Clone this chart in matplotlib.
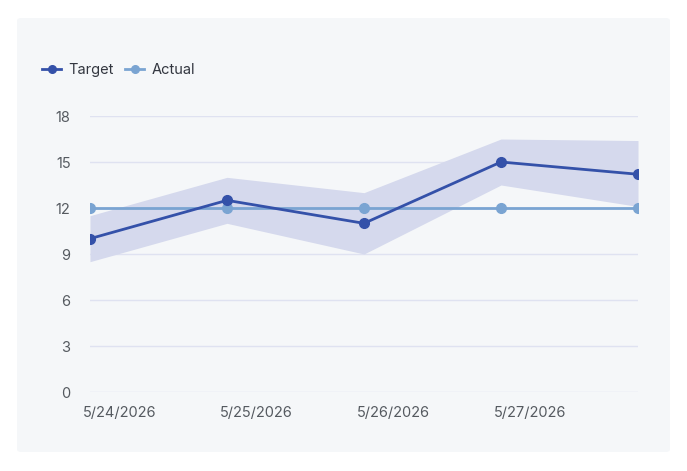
import matplotlib.pyplot as plt
import matplotlib.transforms as mtrans
from matplotlib.patches import FancyBboxPatch
from matplotlib.lines import Line2D

# data
dates = ['5/24/2026', '5/25/2026', '5/26/2026', '5/27/2026', '5/28/2026']
target = [10, 12.5, 11, 15, 14.2]
actual = [12, 12, 12, 12, 12]
band_low = [8.5, 11, 9, 13.5, 12.1]
band_high = [11.5, 14, 13, 16.5, 16.4]
yticks = [0, 3, 6, 9, 12, 15, 18]

W, H = 687, 471
plt.rcParams['font.family'] = ['Inter', 'DejaVu Sans']
fig = plt.figure(figsize=(W / 100, H / 100), dpi=100, facecolor='white')

# grey card behind the chart
card = FancyBboxPatch((17 / W, 1 - 452 / H), (670 - 17) / W, (452 - 18) / H,
                      boxstyle='round,pad=0,rounding_size=0.006',
                      transform=fig.transFigure, facecolor='#f5f7f9',
                      edgecolor='none', zorder=-10)
fig.patches.append(card)

ax = fig.add_axes([90 / W, 1 - 392 / H, (638 - 90) / W, (392 - 116) / H])
ax.set_facecolor('none')
ax.set_zorder(1)

x = list(range(len(dates)))
ax.fill_between(x, band_low, band_high, color='#d5d9ed', linewidth=0, zorder=1)
ax.plot(x, actual, color='#7aa4d2', lw=2, marker='o', ms=7, zorder=3)
ax.plot(x, target, color='#3451a9', lw=2, marker='o', ms=7, zorder=4)

ax.set_xlim(0, 4)
ax.set_ylim(0, 18)
ax.set_yticks(yticks)
ax.set_xticks(x[:-1])
ax.set_xticklabels(dates[:-1], ha='left')
ax.tick_params(axis='x', length=0, pad=10, labelsize=10.5, labelcolor='#555a60')
ax.tick_params(axis='y', length=0, pad=14, labelsize=10.5, labelcolor='#555a60')

off = mtrans.ScaledTranslation(-7 / 100, 0, fig.dpi_scale_trans)
for lab in ax.get_xticklabels():
    lab.set_transform(lab.get_transform() + off)

ax.grid(axis='y', color='#dfe2f1', lw=1)
ax.set_axisbelow(True)
for s in ax.spines.values():
    s.set_visible(False)

handles = [Line2D([], [], color='#3451a9', lw=2, marker='o', ms=5.5),
           Line2D([], [], color='#7aa4d2', lw=2, marker='o', ms=5.5)]
fig.legend(handles, ['Target', 'Actual'], loc='center left',
           bbox_to_anchor=(29 / W, 1 - 70 / H), frameon=False,
           ncol=2, handlelength=1.3, handletextpad=0.5, columnspacing=0.8,
           fontsize=10.5, labelcolor='#333740')

fig.savefig('out.png', dpi=100, facecolor='white')
